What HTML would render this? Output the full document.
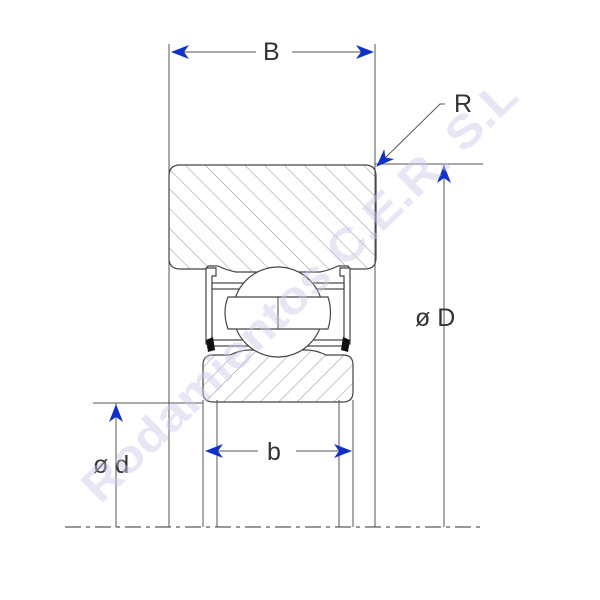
<!DOCTYPE html>
<html><head><style>body{margin:0;background:#fff}svg{display:block}</style></head><body>
<svg width="600" height="600" viewBox="0 0 600 600" xmlns="http://www.w3.org/2000/svg" font-family="Liberation Sans, sans-serif">
<defs>
<pattern id="h" width="14" height="14" patternUnits="userSpaceOnUse" patternTransform="rotate(-45)">
<line x1="0" y1="0" x2="0" y2="14" stroke="#777" stroke-width="0.8"/></pattern>
<pattern id="h2" width="13" height="13" patternUnits="userSpaceOnUse" patternTransform="rotate(45)">
<line x1="0" y1="0" x2="0" y2="13" stroke="#777" stroke-width="0.8"/></pattern>
<marker id="a" markerWidth="18" markerHeight="14" refX="17" refY="7" orient="auto" markerUnits="userSpaceOnUse"><path d="M0,0 L18,7 L0,14 L5,7z" fill="#1030c8"/></marker>
</defs>
<g stroke="#555" stroke-width="1" fill="none">
<line x1="169" y1="44" x2="169" y2="527"/>
<line x1="375" y1="44" x2="375" y2="527"/>
<line x1="203" y1="400" x2="203" y2="527"/>
<line x1="217" y1="400" x2="217" y2="527"/>
<line x1="339" y1="400" x2="339" y2="527"/>
<line x1="353" y1="400" x2="353" y2="527"/>
<line x1="375" y1="164" x2="483" y2="164"/>
<line x1="93" y1="403" x2="203" y2="403"/>
<line x1="444" y1="164" x2="444" y2="527"/>
<line x1="116" y1="403" x2="116" y2="527"/>
<line x1="65" y1="527" x2="485" y2="527" stroke-dasharray="16,5,4,5" stroke="#333"/>
</g>
<path d="M180,165 H365 Q376,165 376,176 V258 Q376,269 365,269 H350 L348,266 H338 Q330,270 320,272 H236 Q226,270 218,266 H208 L206,269 H180 Q169,269 169,258 V176 Q169,165 180,165Z" fill="url(#h)" stroke="#444" stroke-width="1.2"/>
<path d="M213,355 H230 Q240,350 250,350 H306 Q316,350 326,355 H343 Q353,355 353,365 V392 Q353,402 343,402 H213 Q203,402 203,392 V365 Q203,355 213,355Z" fill="url(#h2)" stroke="#444" stroke-width="1.2"/>
<g stroke="#444" stroke-width="1.2" fill="#fff">
<path d="M206,268 H216 V276 H212 V344 H206Z"/>
<path d="M350,268 H340 V276 H344 V344 H350Z"/>
<rect x="212" y="283" width="132" height="6"/>
<rect x="212" y="340" width="132" height="6"/>
</g>
<path d="M206,340 L213,337 L215,350 L208,352Z" fill="#111"/>
<path d="M350,340 L343,337 L341,350 L348,352Z" fill="#111"/>
<circle cx="278" cy="312" r="45" fill="#fff" stroke="#444" stroke-width="1.2"/>
<path d="M228,297 H328 Q333,312 328,329 H228 Q222,312 228,297Z" fill="#fff" stroke="#444" stroke-width="1.2"/>
<line x1="278" y1="297" x2="278" y2="329" stroke="#444"/>
<g stroke="#555" stroke-width="1" fill="none">
<line x1="172" y1="52" x2="256" y2="52" marker-end="url(#a)" transform="rotate(180 214 52)"/>
<line x1="292" y1="52" x2="373" y2="52" marker-end="url(#a)"/>
<line x1="206" y1="451" x2="258" y2="451" marker-end="url(#a)" transform="rotate(180 232 451)"/>
<line x1="296" y1="451" x2="351" y2="451" marker-end="url(#a)"/>
<line x1="444" y1="300" x2="444" y2="166" marker-end="url(#a)"/>
<line x1="116" y1="440" x2="116" y2="405" marker-end="url(#a)"/>
<polyline points="445,104 440,104 377,166" marker-end="url(#a)"/>
</g>
<g font-size="25" fill="#333">
<text x="263" y="60">B</text>
<text x="267" y="460">b</text>
<text x="454" y="112">R</text>
<text x="415" y="326">ø D</text>
<text x="93" y="473">ø d</text>
</g>
<text x="0" y="0" transform="translate(100,505) rotate(-44)" font-size="46" font-weight="bold" fill="#c8c8e6" fill-opacity="0.45" textLength="585" lengthAdjust="spacingAndGlyphs">Rodamientos C.E.R. S.L</text>
</svg>
</body></html>
